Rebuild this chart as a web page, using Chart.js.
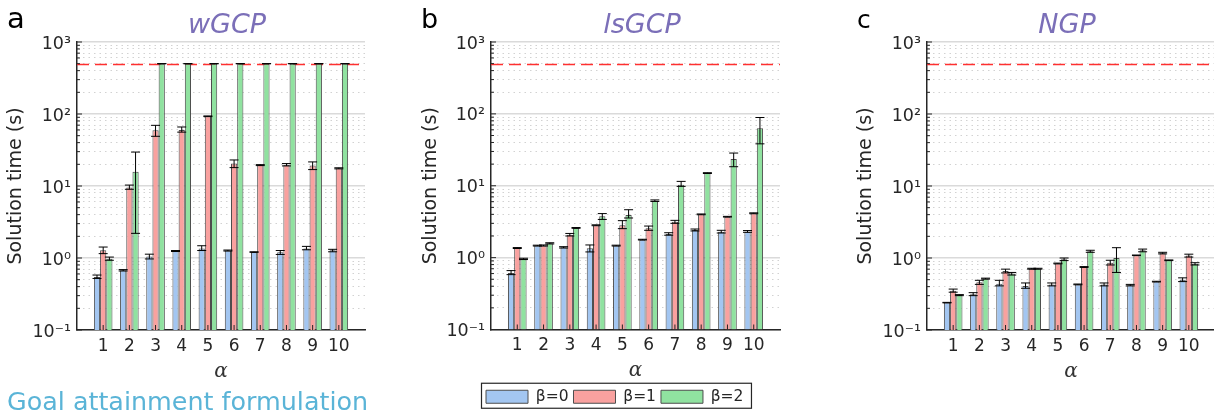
<!DOCTYPE html>
<html>
<head>
<meta charset="utf-8">
<script src="https://cdn.jsdelivr.net/npm/chart.js@4.4.1/dist/chart.umd.min.js"></script>
<style>
  body { margin: 0; width: 1214px; height: 411px; overflow: hidden; background: #fff; position: relative; font-family: "DejaVu Sans", sans-serif; }
  canvas { position: absolute; top: 0; }
  .letter { position: absolute; color: #000; line-height: 1; }
  .ptitle { position: absolute; top: 10px; font-size: 27px; font-style: italic; color: #7b6fb8; line-height: 1; transform: translateX(-50%); white-space: nowrap; }
  .note { position: absolute; left: 7px; top: 389px; font-size: 25.4px; color: #5ab4d7; line-height: 1; white-space: nowrap; }
</style>
</head>
<body>
<canvas id="chartA" width="380" height="411" style="left:0px"></canvas>
<canvas id="chartB" width="380" height="411" style="left:415px"></canvas>
<canvas id="chartC" width="380" height="411" style="left:850px"></canvas>

<div class="letter" style="left:7px;top:4px;font-size:29px">a</div>
<div class="letter" style="left:421px;top:5px;font-size:27px">b</div>
<div class="letter" style="left:857px;top:7px;font-size:25px">c</div>
<div class="ptitle" style="left:227px">wGCP</div>
<div class="ptitle" style="left:642px">lsGCP</div>
<div class="ptitle" style="left:1067px">NGP</div>
<div class="note">Goal attainment formulation</div>

<script>
// categories and series
const categories = ['1', '2', '3', '4', '5', '6', '7', '8', '9', '10'];
const seriesNames = ['β=0', 'β=1', 'β=2'];
const barColors = ['#a3c6f1', '#f9a19f', '#90e2a0'];
const timeLimit = 500;

// y ticks (log axis, labels only on decades)
const yTickValues = [0.1, 0.2, 0.3, 0.4, 0.5, 0.6, 0.7, 0.8, 0.9,
  1, 2, 3, 4, 5, 6, 7, 8, 9,
  10, 20, 30, 40, 50, 60, 70, 80, 90,
  100, 200, 300, 400, 500, 600, 700, 800, 900, 1000];
const yTickLabels = { '0.1': '10⁻¹', '1': '10⁰', '10': '10¹', '100': '10²', '1000': '10³' };

// wGCP
const wgcpBeta0 = [0.545, 0.675, 1.05, 1.25, 1.35, 1.27, 1.21, 1.2, 1.36, 1.28];
const wgcpBeta1 = [1.28, 9.5, 59.5, 60, 93, 20.5, 19.5, 19.7, 19.2, 17.6];
const wgcpBeta2 = [0.98, 15.8, 500, 500, 500, 500, 500, 500, 500, 500];
const wgcpErr0 = [[0.52, 0.58], [0.66, 0.69], [0.97, 1.13], [1.23, 1.27], [1.27, 1.48], [1.25, 1.29], [1.2, 1.22], [1.12, 1.27], [1.3, 1.45], [1.22, 1.32]];
const wgcpErr1 = [[1.15, 1.42], [9.0, 10.3], [49, 69.6], [56, 66], [92, 94], [18, 23], [19.2, 19.8], [19, 20.5], [16.9, 21.6], [17.3, 17.9]];
const wgcpErr2 = [[0.93, 1.03], [2.2, 29.6], [500, 500], [500, 500], [500, 500], [500, 500], [500, 500], [500, 500], [500, 500], [500, 500]];

// lsGCP
const lsgcpBeta0 = [0.61, 1.47, 1.39, 1.35, 1.47, 1.78, 2.13, 2.43, 2.3, 2.3];
const lsgcpBeta1 = [1.36, 1.47, 2.08, 2.82, 2.82, 2.56, 3.16, 4.0, 3.71, 4.14];
const lsgcpBeta2 = [0.96, 1.58, 2.59, 3.76, 3.92, 6.2, 10.3, 15.0, 23.5, 63];
const lsgcpErr0 = [[0.58, 0.66], [1.45, 1.49], [1.36, 1.42], [1.2, 1.5], [1.45, 1.49], [1.76, 1.8], [2.05, 2.22], [2.35, 2.5], [2.2, 2.4], [2.25, 2.38]];
const lsgcpErr1 = [[1.34, 1.38], [1.45, 1.5], [2.0, 2.17], [2.78, 2.86], [2.53, 3.27], [2.4, 2.75], [3.0, 3.3], [3.95, 4.05], [3.67, 3.75], [4.08, 4.2]];
const lsgcpErr2 = [[0.94, 0.98], [1.55, 1.61], [2.56, 2.62], [3.4, 4.1], [3.56, 4.64], [6.05, 6.35], [9.8, 11.5], [14.8, 15.2], [18.4, 28.5], [38.3, 89]];

// NGP
const ngpBeta0 = [0.24, 0.313, 0.44, 0.408, 0.43, 0.43, 0.43, 0.42, 0.47, 0.5];
const ngpBeta1 = [0.352, 0.46, 0.66, 0.71, 0.84, 0.75, 0.86, 1.09, 1.16, 1.08];
const ngpBeta2 = [0.306, 0.517, 0.607, 0.71, 0.96, 1.24, 1.0, 1.28, 0.93, 0.83];
const ngpErr0 = [[0.238, 0.242], [0.3, 0.33], [0.41, 0.49], [0.38, 0.45], [0.41, 0.45], [0.425, 0.435], [0.41, 0.45], [0.41, 0.43], [0.465, 0.475], [0.47, 0.53]];
const ngpErr1 = [[0.335, 0.37], [0.43, 0.49], [0.62, 0.7], [0.7, 0.72], [0.83, 0.85], [0.74, 0.76], [0.8, 0.93], [1.08, 1.1], [1.14, 1.2], [1.03, 1.13]];
const ngpErr2 = [[0.3, 0.31], [0.51, 0.525], [0.58, 0.63], [0.7, 0.72], [0.92, 1.0], [1.2, 1.28], [0.63, 1.39], [1.22, 1.33], [0.92, 0.94], [0.8, 0.86]];

Chart.defaults.font.family = '"DejaVu Sans", sans-serif';
Chart.defaults.color = '#262626';

// empty slot on each side so the axis runs from 0 to 11
const pad = arr => [null, ...arr, null];

function isDecade(v) {
  const l = Math.log10(v);
  return Math.abs(l - Math.round(l)) < 1e-9;
}

// dashed red time limit line
const limitLine = {
  id: 'limitLine',
  beforeDatasetsDraw(chart) {
    const { ctx, chartArea } = chart;
    const y = Math.round(chart.scales.y.getPixelForValue(timeLimit)) + 0.5;
    ctx.save();
    ctx.strokeStyle = '#ff3030';
    ctx.lineWidth = 1.3;
    ctx.setLineDash([12, 6]);
    ctx.beginPath();
    ctx.moveTo(chartArea.left, y);
    ctx.lineTo(chartArea.right, y);
    ctx.stroke();
    ctx.restore();
  }
};

// error bars from the dataset's errors list
const errorBars = {
  id: 'errorBars',
  afterDatasetsDraw(chart) {
    const { ctx } = chart;
    const yScale = chart.scales.y;
    ctx.save();
    ctx.strokeStyle = '#000';
    ctx.lineWidth = 1;
    chart.data.datasets.forEach((ds, di) => {
      const meta = chart.getDatasetMeta(di);
      ds.errors.forEach((e, i) => {
        if (!e) return;
        const x = meta.data[i].x;
        const y1 = yScale.getPixelForValue(e[0]);
        const y2 = yScale.getPixelForValue(e[1]);
        const w = 4.5;
        ctx.beginPath();
        ctx.moveTo(x, y1); ctx.lineTo(x, y2);
        ctx.moveTo(x - w, y1); ctx.lineTo(x + w, y1);
        ctx.moveTo(x - w, y2); ctx.lineTo(x + w, y2);
        ctx.stroke();
      });
    });
    ctx.restore();
  }
};

// tick marks pointing into the plot
const innerTicks = {
  id: 'innerTicks',
  afterDatasetsDraw(chart) {
    const { ctx, chartArea } = chart;
    const xScale = chart.scales.x, yScale = chart.scales.y;
    ctx.save();
    ctx.strokeStyle = '#262626';
    ctx.lineWidth = 1;
    ctx.beginPath();
    yScale.ticks.forEach(t => {
      const y = yScale.getPixelForValue(t.value);
      ctx.moveTo(chartArea.left, y);
      ctx.lineTo(chartArea.left + (isDecade(t.value) ? 5 : 3), y);
    });
    for (let i = 1; i <= categories.length; i++) {
      const x = xScale.getPixelForValue(i);
      ctx.moveTo(x, chartArea.bottom);
      ctx.lineTo(x, chartArea.bottom - 5);
    }
    ctx.stroke();
    ctx.restore();
  }
};

// move the legend under the middle and frame it
const legendFrame = {
  id: 'legendFrame',
  afterLayout(chart) {
    const lg = chart.legend;
    const p = lg.options.labels.padding;
    const startX = (lg.left + p + lg.right - lg.lineWidths[0]) / 2;
    const dx = 71 - startX;
    lg.left += dx; lg.right += dx;
    lg.top += 3.5; lg.bottom += 3.5;
  },
  afterDraw(chart) {
    const hb = chart.legend.legendHitBoxes;
    if (!hb || !hb.length) return;
    const { ctx } = chart;
    const last = hb[hb.length - 1];
    const l = hb[0].left - 4.5;
    const r = last.left + last.width + 8;
    const cy = hb[0].top + hb[0].height / 2;
    ctx.save();
    ctx.strokeStyle = '#262626';
    ctx.lineWidth = 1.2;
    ctx.strokeRect(l, cy - 13.5, r - l, 25);
    ctx.restore();
  }
};

function buildPanel(id, values, errors, cfg) {
  const datasets = seriesNames.map((name, k) => ({
    label: name,
    data: pad(values[k]),
    errors: pad(errors[k]),
    backgroundColor: barColors[k],
    borderColor: '#4d4d4d',
    borderWidth: 1,
    categoryPercentage: 0.71,
    barPercentage: 1
  }));

  const plugins = [limitLine, errorBars, innerTicks];
  if (cfg.legend) plugins.push(legendFrame);

  return new Chart(document.getElementById(id), {
    type: 'bar',
    data: { labels: pad(categories).map(c => c === null ? '' : c), datasets },
    options: {
      responsive: false,
      animation: false,
      events: [],
      layout: { padding: { top: 42, right: 15, left: 0, bottom: 0 } },
      plugins: {
        tooltip: { enabled: false },
        legend: cfg.legend ? {
          position: 'bottom',
          labels: {
            boxWidth: 42,
            boxHeight: 13,
            padding: 5,
            color: '#262626',
            font: { size: 15.5 }
          }
        } : { display: false }
      },
      scales: {
        x: {
          type: 'category',
          offset: false,
          grid: { display: false, drawTicks: false },
          border: { color: '#262626', width: 1.5 },
          ticks: { autoSkip: false, maxRotation: 0, padding: 6, font: { size: 17 }, color: '#262626' },
          title: {
            display: true,
            text: 'α',
            color: '#333',
            font: { family: '"DejaVu Serif", serif', style: 'italic', size: 20 },
            padding: { top: 0, bottom: cfg.alphaPad }
          },
          afterFit: s => { s.height = cfg.xHeight; }
        },
        y: {
          type: 'logarithmic',
          min: 0.1,
          max: 1000,
          afterBuildTicks: s => { s.ticks = yTickValues.map(v => ({ value: v, major: isDecade(v) })); },
          afterFit: s => { s.width = cfg.yWidth; },
          ticks: {
            autoSkip: false,
            padding: 6,
            labelOffset: 2,
            font: { size: 17.5 },
            color: '#262626',
            callback: v => yTickLabels[String(v)] || ''
          },
          grid: {
            drawTicks: false,
            color: c => (c.tick && isDecade(c.tick.value)) ? '#dadada' : '#d2d2d2',
            lineWidth: c => (c.tick && isDecade(c.tick.value)) ? 1.5 : 1
          },
          border: {
            color: '#262626',
            width: 1.5,
            dash: c => (c.tick && !isDecade(c.tick.value)) ? [1.5, 4] : []
          },
          title: {
            display: true,
            text: 'Solution time (s)',
            color: '#262626',
            font: { size: 19 },
            padding: { top: 5, bottom: 0 }
          }
        }
      }
    },
    plugins
  });
}

buildPanel('chartA', [wgcpBeta0, wgcpBeta1, wgcpBeta2], [wgcpErr0, wgcpErr1, wgcpErr2],
  { yWidth: 77, xHeight: 81, alphaPad: 27.5, legend: false });
buildPanel('chartB', [lsgcpBeta0, lsgcpBeta1, lsgcpBeta2], [lsgcpErr0, lsgcpErr1, lsgcpErr2],
  { yWidth: 76, xHeight: 51, alphaPad: -2.5, legend: true });
buildPanel('chartC', [ngpBeta0, ngpBeta1, ngpBeta2], [ngpErr0, ngpErr1, ngpErr2],
  { yWidth: 77, xHeight: 81, alphaPad: 27.5, legend: false });
</script>
</body>
</html>
